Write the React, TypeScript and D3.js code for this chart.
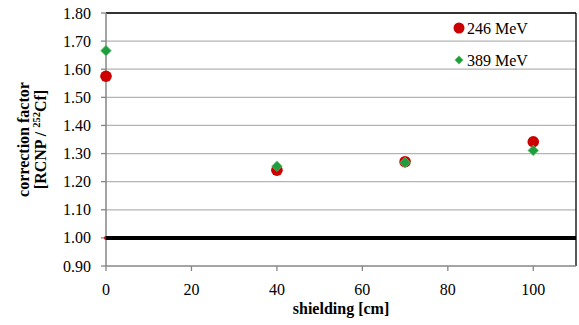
import React from "react";
import * as d3 from "d3";

const shielding = [0, 40, 70, 100];
const mev246 = [1.575, 1.241, 1.271, 1.342];
const mev389 = [1.666, 1.255, 1.268, 1.311];
const seriesNames = ["246 MeV", "389 MeV"];
const xTicks = [0, 20, 40, 60, 80, 100];
const yTicks = [0.9, 1.0, 1.1, 1.2, 1.3, 1.4, 1.5, 1.6, 1.7, 1.8];
const referenceValue = 1.0;

const W = 579;
const H = 325;
const M = { left: 106, right: 576, top: 13, bottom: 266 };
const FONT = "'Liberation Serif', 'Times New Roman', serif";

export default function App() {
  const x = d3.scaleLinear().domain([0, 110]).range([M.left, M.right]);
  const y = d3.scaleLinear().domain([0.9, 1.8]).range([M.bottom, M.top]);
  const red = "#cc0000";
  const green = "#1f9e3f";
  const diamond = d3.symbol().type(d3.symbolDiamond2).size(72);
  const diamondLeg = d3.symbol().type(d3.symbolDiamond2).size(45);
  const cy = (M.top + M.bottom) / 2;

  return (
    <svg
      width={W}
      height={H}
      style={{ position: "absolute", left: 0, top: 0, background: "#fff", fontFamily: FONT }}
    >
      <rect x={0} y={0} width={W} height={H} fill="#fff" />
      {yTicks.slice(1).map((t) => (
        <line key={t} x1={M.left} x2={M.right} y1={y(t)} y2={y(t)} stroke="#b4b4b4" strokeWidth={1.3} />
      ))}
      <line x1={M.left} x2={M.right} y1={M.top} y2={M.top} stroke="#000" strokeWidth={1.3} />
      <line x1={M.right} x2={M.right} y1={M.top} y2={M.bottom} stroke="#000" strokeWidth={1.3} />
      <line x1={M.left} x2={M.right} y1={M.bottom} y2={M.bottom} stroke="#868686" strokeWidth={1.5} />
      <line x1={M.left} x2={M.left} y1={M.top} y2={M.bottom} stroke="#868686" strokeWidth={1.5} />
      {yTicks.map((t) => (
        <g key={t}>
          <line x1={M.left - 5} x2={M.left} y1={y(t)} y2={y(t)} stroke="#868686" strokeWidth={1.3} />
          <text x={91} y={y(t)} dy="0.35em" textAnchor="end" fontSize={16} fill="#000">
            {t.toFixed(2)}
          </text>
        </g>
      ))}
      {xTicks.map((t) => (
        <g key={t}>
          <line x1={x(t)} x2={x(t)} y1={M.bottom} y2={M.bottom + 5} stroke="#868686" strokeWidth={1.3} />
          <text x={x(t)} y={295} textAnchor="middle" fontSize={16} fill="#000">
            {t}
          </text>
        </g>
      ))}
      <circle cx={x(0)} cy={y(referenceValue)} r={2} fill={red} />
      <line
        x1={x(0)}
        x2={M.right}
        y1={y(referenceValue)}
        y2={y(referenceValue)}
        stroke="#000"
        strokeWidth={4}
      />
      {shielding.map((s, i) => (
        <circle key={"r" + i} cx={x(s)} cy={y(mev246[i])} r={5.8} fill={red} />
      ))}
      {shielding.map((s, i) => (
        <path
          key={"g" + i}
          d={diamond() as string}
          transform={`translate(${x(s)},${y(mev389[i])})`}
          fill={green}
          stroke="#6cc46c"
          strokeWidth={0.7}
        />
      ))}
      <circle cx={459} cy={28} r={5.5} fill={red} />
      <text x={467} y={33.5} fontSize={16} fill="#000">
        {seriesNames[0]}
      </text>
      <path d={diamondLeg() as string} transform="translate(459,60)" fill={green} stroke="#6cc46c" strokeWidth={0.7} />
      <text x={467} y={65.5} fontSize={16} fill="#000">
        {seriesNames[1]}
      </text>
      <text x={(M.left + M.right) / 2} y={314} textAnchor="middle" fontSize={16} fontWeight="bold" fill="#000">
        shielding [cm]
      </text>
      <text
        transform={`translate(29,${cy}) rotate(-90)`}
        textAnchor="middle"
        fontSize={16}
        fontWeight="bold"
        fill="#000"
      >
        correction factor
      </text>
      <text
        transform={`translate(46,${cy}) rotate(-90)`}
        textAnchor="middle"
        fontSize={16}
        fontWeight="bold"
        fill="#000"
      >
        [RCNP / <tspan fontSize={10.5} dy={-6}>252</tspan>
        <tspan dy={6}>Cf]</tspan>
      </text>
    </svg>
  );
}
